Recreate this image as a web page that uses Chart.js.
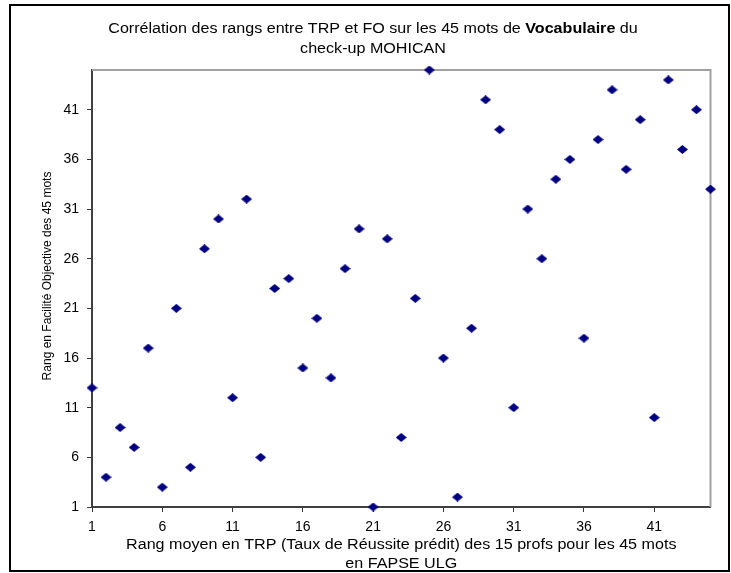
<!DOCTYPE html>
<html>
<head>
<meta charset="utf-8">
<script src="https://cdn.jsdelivr.net/npm/chart.js@4"></script>
<style>
html,body{margin:0;padding:0;background:#fff;}
#c{display:block;}
</style>
</head>
<body>
<canvas id="c" width="731" height="573"></canvas>
<script>
// ---- data ----
const rangTRP = [1,2,3,4,5,6,7,8,9,10,11,12,13,14,15,16,17,18,19,20,21,22,23,24,25,26,27,28,29,30,31,32,33,34,35,36,37,38,39,40,41,42,43,44,45];
const rangFO  = [13,4,9,7,17,3,21,5,27,30,12,32,6,23,24,15,20,14,25,29,1,28,8,22,45,16,2,19,42,39,11,31,26,34,36,18,38,43,35,40,10,44,37,41,33];
const xTicks = [1,6,11,16,21,26,31,36,41];
const yTicks = [1,6,11,16,21,26,31,36,41];
const titleStart = "Corrélation des rangs entre TRP et FO sur les 45 mots de ";
const titleBold = "Vocabulaire";
const titleEnd = " du";
const titleLine2 = "check-up MOHICAN";
const xTitleLines = ["Rang moyen en TRP (Taux de Réussite prédit) des 15 profs pour les 45 mots", "en FAPSE ULG"];
const yTitle = "Rang en Facilité Objective des 45 mots";

const FONT = "'Liberation Sans', Arial, sans-serif";
const STRETCH = 1.15;

// diamond marker
function makeDiamond(w, h, color) {
  const cv = document.createElement('canvas');
  cv.width = w; cv.height = h;
  const g = cv.getContext('2d');
  g.fillStyle = color;
  g.beginPath();
  g.moveTo(0, h / 2);
  g.lineTo(w / 2, 0);
  g.lineTo(w, h / 2);
  g.lineTo(w / 2, h);
  g.closePath();
  g.fill();
  return cv;
}
const diamond = makeDiamond(11, 9, '#000080');

function stretchedText(ctx, parts, cx, baseline) {
  // parts: [{text, bold}]
  let total = 0;
  const widths = parts.map(p => {
    ctx.font = (p.bold ? 'bold ' : '') + '14px ' + FONT;
    const w = ctx.measureText(p.text).width;
    total += w;
    return w;
  });
  ctx.save();
  ctx.translate(cx, baseline);
  ctx.scale(STRETCH, 1);
  ctx.textBaseline = 'alphabetic';
  ctx.textAlign = 'left';
  ctx.fillStyle = '#000';
  let x = -total / 2;
  parts.forEach((p, i) => {
    ctx.font = (p.bold ? 'bold ' : '') + '14px ' + FONT;
    ctx.fillText(p.text, x, 0);
    x += widths[i];
  });
  ctx.restore();
}

const decor = {
  id: 'decor',
  beforeDraw(chart) {
    const ctx = chart.ctx;
    ctx.save();
    ctx.fillStyle = '#fff';
    ctx.fillRect(0, 0, chart.width, chart.height);
    ctx.strokeStyle = '#000';
    ctx.lineWidth = 2;
    ctx.strokeRect(10, 5, 719, 566);
    ctx.restore();
  },
  beforeDatasetsDraw(chart) {
    const {ctx, chartArea: a} = chart;
    ctx.save();
    ctx.strokeStyle = '#a0a0a0';
    ctx.lineWidth = 2;
    ctx.beginPath();
    ctx.moveTo(a.left, a.top);
    ctx.lineTo(a.right, a.top);
    ctx.lineTo(a.right, a.bottom);
    ctx.stroke();
    ctx.restore();
  },
  afterDraw(chart) {
    const ctx = chart.ctx;
    const a = chart.chartArea;
    stretchedText(ctx, [{text: titleStart}, {text: titleBold, bold: true}, {text: titleEnd}], 373, 33.3);
    stretchedText(ctx, [{text: titleLine2}], 373, 52.5);
    stretchedText(ctx, [{text: xTitleLines[0]}], (a.left + a.right) / 2, 549.3);
    stretchedText(ctx, [{text: xTitleLines[1]}], (a.left + a.right) / 2, 568.3);
    ctx.save();
    ctx.translate(48, 276);
    ctx.rotate(-Math.PI / 2);
    ctx.font = '12px ' + FONT;
    ctx.fillStyle = '#000';
    ctx.textAlign = 'center';
    ctx.textBaseline = 'middle';
    ctx.fillText(yTitle, 0, 0);
    ctx.restore();
  }
};

const tickFont = {family: FONT, size: 14};

new Chart(document.getElementById('c'), {
  type: 'scatter',
  data: {
    datasets: [{
      data: rangTRP.map((x, i) => ({x: x, y: rangFO[i]})),
      pointStyle: diamond,
      pointRadius: 5,
      pointHoverRadius: 5,
      backgroundColor: '#000080',
      borderColor: '#000080',
      clip: false
    }]
  },
  options: {
    responsive: false,
    animation: false,
    devicePixelRatio: 1,
    events: [],
    layout: {padding: {top: 70, right: 20.5, left: 0, bottom: 0}},
    plugins: {legend: {display: false}, title: {display: false}, tooltip: {enabled: false}},
    scales: {
      x: {
        type: 'linear',
        min: 1, max: 45,
        afterBuildTicks: s => { s.ticks = xTicks.map(v => ({value: v})); },
        afterFit: s => { s.height = 66; },
        grid: {drawOnChartArea: false, drawTicks: true, tickLength: 5, tickColor: '#333', tickWidth: 1},
        border: {display: true, color: '#404040', width: 2},
        ticks: {font: tickFont, color: '#000', padding: 7, maxRotation: 0, autoSkip: false, callback: v => String(v)}
      },
      y: {
        type: 'linear',
        min: 1, max: 45,
        afterBuildTicks: s => { s.ticks = yTicks.map(v => ({value: v})); },
        afterFit: s => { s.width = 92; },
        grid: {drawOnChartArea: false, drawTicks: true, tickLength: 5, tickColor: '#333', tickWidth: 1},
        border: {display: true, color: '#404040', width: 2},
        ticks: {font: tickFont, color: '#000', padding: 8, autoSkip: false, callback: v => String(v)}
      }
    }
  },
  plugins: [decor]
});
</script>
</body>
</html>
